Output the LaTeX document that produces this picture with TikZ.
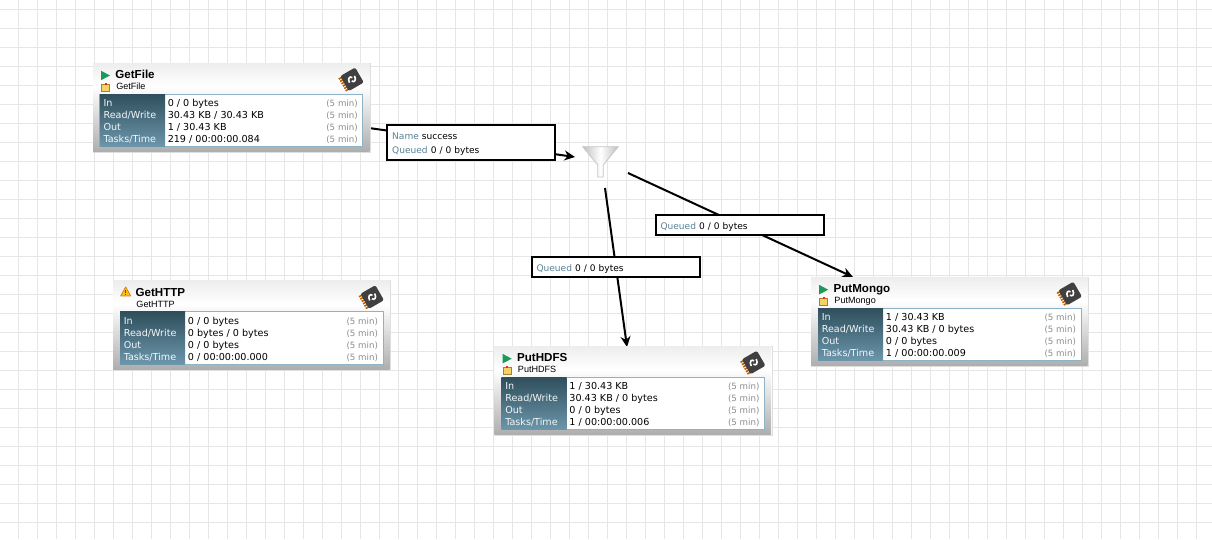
\documentclass[tikz,border=0pt]{standalone}
\usepackage{fontspec}
\setmainfont{DejaVu Sans}
\newfontfamily\titlefont{Liberation Sans}
\usetikzlibrary{arrows.meta,shapes.geometric}
\definecolor{gridc}{HTML}{E6E6E6}
\definecolor{qblue}{HTML}{5A8296}
\definecolor{tabtop}{HTML}{2F4F5C}
\definecolor{tabbot}{HTML}{6C96AB}
\definecolor{tabline}{HTML}{8FB3C6}
\definecolor{playgreen}{HTML}{1B9A5A}
\definecolor{boxyellow}{HTML}{F0D468}
\definecolor{boxedge}{HTML}{A88030}
\newcommand{\lowered}{\rule{0pt}{7.1pt}}
\tikzset{
  gridline/.style={gridc,line width=0.75pt},
  cardbody/.style={draw=black!13,fill=white,line width=0.75pt,minimum width=208pt,minimum height=67.1pt,inner sep=0pt,anchor=north west},
  rowtext/.style={anchor=base west,inner sep=0pt,font=\fontsize{7.2}{9}\selectfont},
  lbl/.style={rowtext,text=white!92!tabbot},
  tm/.style={anchor=base east,inner sep=0pt,font=\fontsize{6.5}{8}\selectfont,text=black!45},
  titletext/.style={anchor=base west,inner sep=0pt,font=\titlefont\bfseries\fontsize{8.7}{10}\selectfont},
  subtext/.style={anchor=base west,inner sep=0pt,font=\titlefont\fontsize{6.8}{8}\selectfont},
  conn/.style={black,line width=1.5pt,-{Stealth[length=8pt,width=7.5pt]}},
  connlabel/.style={draw=black,line width=1.5pt,fill=white,inner ysep=0pt,inner xsep=3.75pt,minimum width=126pt,text width=118.5pt,align=left,font=\fontsize{6.8}{10.6}\selectfont}
}
\newcommand{\okstatus}{%
  \fill[playgreen] (8.5,8.2) -- (17.5,13) -- (8.5,17.7) -- cycle;
  \fill[fill=boxyellow,draw=boxedge,line width=.5pt] (8.7,21.5) rectangle (17,28.5);
  \fill[red!70!orange] (12,20) rectangle (14,22);
}
\newcommand{\warnstatus}{%
  \fill[fill=yellow!55!orange,draw=brown!70!orange,line width=.6pt,line join=round] (8,15.7) -- (13,6.7) -- (18,15.7) -- cycle;
  \fill[black!70] (12.6,9.5) rectangle (13.4,13);
  \fill[black!70] (12.6,13.8) rectangle (13.4,14.8);
}
% name, x, y, status code, title, row1..row4
\newcommand{\cardbox}[9]{%
  \node[cardbody] (#1) at (#2,#3) {};
  \begin{scope}[shift={(#2,#3)}]
    \shade[top color=black!7,bottom color=white] (0.5,0.5) rectangle (277,24);
    \shade[top color=white,bottom color=black!32] (0.5,24) rectangle (277,89);
    \fill[white] (7.3,31.5) rectangle (270.3,84);
    \draw[tabline,line width=.75pt] (7.3,31.5) rectangle (270.3,84);
    \shade[top color=tabtop,bottom color=tabbot] (7.3,31.5) rectangle (72.5,84);
    #4
    \node[titletext] (#1-title) at (22.6,16) {#5};
    \node[subtext] (#1-sub) at (23.5,27) {#5};
    \begin{scope}[shift={(259.5,16.8)},rotate=30,scale=1.08]
      \foreach \yy in {-7,-4.5,-2,.5,3,5.5}{\fill[orange!75!black] (-10.5,\yy) rectangle (-7,\yy+1.5);}
      \fill[black!75,rounded corners=1.5pt] (-8,-8) rectangle (8,8);
      \draw[white,line width=1.2pt] (-3.6,1.6) .. controls (-3.4,-3) and (0,-3.8) .. (1,-1.2);
      \draw[white,line width=1.2pt] (3.6,-1.6) .. controls (3.4,3) and (0,3.8) .. (-1,1.2);
    \end{scope}
    \node[lbl] at (10.8,44.2) {In};
    \node[lbl] at (10.8,56.2) {Read/Write};
    \node[lbl] at (10.8,68) {Out};
    \node[lbl] at (10.8,79.8) {Tasks/Time};
    \node[rowtext] at (75,44.2) {#6};
    \node[rowtext] at (75,56.2) {#7};
    \node[rowtext] at (75,68) {#8};
    \node[rowtext] at (75,79.8) {#9};
    \foreach \yy in {44.2,56.2,68,79.8}{\node[tm] at (265.5,\yy) {(5 min)};}
  \end{scope}%
}
\begin{document}
\begin{tikzpicture}[x=0.75pt,y=-0.75pt]
\useasboundingbox (0,0) rectangle (1212,539);
\fill[white] (0,0) rectangle (1212,539);
\foreach \i in {0,...,63}{\draw[gridline] ({18.5+19*\i},0) -- ({18.5+19*\i},539);}
\foreach \i in {0,...,27}{\draw[gridline] (0,{9.5+19*\i}) -- (1212,{9.5+19*\i});}

\coordinate (outA) at (369,128);
\coordinate (inFunnel) at (575,157);
\coordinate (outB) at (605,188);
\coordinate (inHDFS) at (627,347);
\coordinate (outC) at (628,173);
\coordinate (inMongo) at (853,277);

% funnel
\node[minimum width=26.25pt,minimum height=23.25pt,inner sep=0pt] (funnel) at (600.5,162) {};
\shade[left color=black!25,right color=black!25,middle color=white,draw=black!22,line width=.6pt]
  (582.7,146.7) -- (618.3,146.7) -- (603.2,165) -- (603.2,177) -- (597.8,177) -- (597.8,165) -- cycle;

\draw[conn] (outA) -- (inFunnel);
\draw[conn] (outB) -- (inHDFS);
\draw[conn] (outC) -- (inMongo);

\node[connlabel,minimum height=26pt] (lblA) at (471.2,142.6) {\lowered\textcolor{qblue}{Name} success\\\textcolor{qblue}{Queued} 0 / 0 bytes};
\node[connlabel,minimum height=15pt] (lblC) at (739.5,225.3) {\lowered\textcolor{qblue}{Queued} 0 / 0 bytes};
\node[connlabel,minimum height=15pt] (lblB) at (615.5,267.3) {\lowered\textcolor{qblue}{Queued} 0 / 0 bytes};

\cardbox{getfile}{92.5}{62.5}{\okstatus}{GetFile}{0 / 0 bytes}{30.43 KB / 30.43 KB}{1 / 30.43 KB}{219 / 00:00:00.084}
\cardbox{gethttp}{112.7}{280.2}{\warnstatus}{GetHTTP}{0 / 0 bytes}{0 bytes / 0 bytes}{0 / 0 bytes}{0 / 00:00:00.000}
\cardbox{puthdfs}{494.2}{345.7}{\okstatus}{PutHDFS}{1 / 30.43 KB}{30.43 KB / 0 bytes}{0 / 0 bytes}{1 / 00:00:00.006}
\cardbox{putmongo}{810.7}{276.7}{\okstatus}{PutMongo}{1 / 30.43 KB}{30.43 KB / 0 bytes}{0 / 0 bytes}{1 / 00:00:00.009}
\end{tikzpicture}
\end{document}
